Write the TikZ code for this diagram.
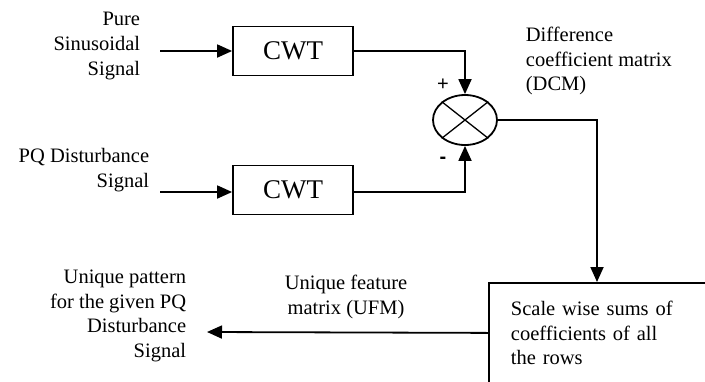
\documentclass[tikz,border=0pt]{standalone}
\usepackage{fontspec}
\setmainfont{Liberation Serif}
\setsansfont{Liberation Sans}
\usetikzlibrary{arrows.meta,shapes.geometric}
\begin{document}
\begin{tikzpicture}[x=1pt,y=-1pt,line width=1.8pt,
  every node/.style={font=\fontsize{20.5}{24.7}\selectfont},
  label/.style={inner sep=0pt},
  block/.style={draw,minimum width=120pt,minimum height=49pt,inner sep=0pt,
    font=\fontsize{27}{32}\selectfont},
  sign/.style={inner sep=0pt,font=\fontsize{20}{22}\sffamily},
  flow/.style={-{Triangle[length=15pt,width=13pt]}}]
  \useasboundingbox (0,0) rectangle (705,381);
  \clip (0,0) rectangle (705,381);
  % transforms
  \node[block] (cwta) at (293,51) {CWT};
  \node[block] (cwtb) at (293,190) {CWT};
  \node[draw,ellipse,minimum width=64pt,minimum height=50pt,inner sep=0pt]
    (sum) at (465,120) {};
  \draw[line width=1.3pt] (sum.north west) -- (sum.south east)
    (sum.north east) -- (sum.south west);
  \node[draw,anchor=north west,minimum height=100pt,text width=196pt,
    inner xsep=22pt,align=left] (sums) at (488,282)
    {Scale wise sums of\\coefficients of all\\the rows};
  % texts
  \node[label,anchor=east,align=right] (pure) at (141,46)
    {Pure\\Sinusoidal\\Signal};
  \node[label,anchor=east,align=right] (pq) at (150,170)
    {PQ Disturbance\\Signal};
  \node[label,anchor=west,align=left] (dcm) at (525,61)
    {Difference\\coefficient matrix\\(DCM)};
  \node[label,align=center] (ufm) at (346,297)
    {Unique feature\\matrix (UFM)};
  \node[label,anchor=east,align=right] (pattern) at (187,316)
    {Unique pattern\\for the given PQ\\Disturbance\\Signal};
  \node[sign] (plus) at (443,85) {+};
  \node[sign] (minus) at (443,160) {\textbf{-}};
  % connectors
  \coordinate (ina) at (160,51);
  \coordinate (inb) at (160,192);
  \coordinate (turn) at (597,120);
  \coordinate (outp) at (207,332);
  \draw[flow] (ina) -- (cwta.west);
  \draw[flow] (inb) -- (inb -| cwtb.west);
  \draw[flow] (cwta.east) -| (sum.north);
  \draw[flow] (inb -| cwtb.east) -| (sum.south);
  \draw[flow] (sum.east) -- (turn) -- (turn |- sums.north);
  \draw[flow] (sums.west) -- (outp);
\end{tikzpicture}
\end{document}
